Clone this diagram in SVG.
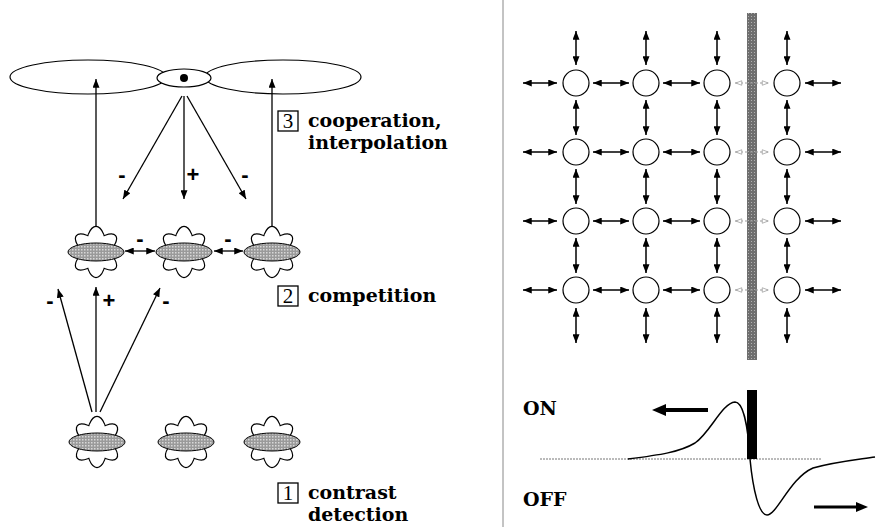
<svg xmlns="http://www.w3.org/2000/svg" width="881" height="527" viewBox="0 0 881 527">
<style>
.ln{stroke:#000;stroke-width:1.3;fill:none}
.ol{stroke:#000;stroke-width:1.2;fill:#fff}
.pet{stroke:#000;stroke-width:2.4;fill:none}
.petf{fill:#fff;stroke:none}
.core{fill:url(#dots);stroke:#000;stroke-width:1}
.gar line{stroke:#000;stroke-width:1.5;marker-start:url(#ga);marker-end:url(#ga)}
.gdash line{stroke:#999;stroke-width:1.2;stroke-dasharray:3 2;marker-start:url(#gh);marker-end:url(#gh)}
.node{fill:#fff;stroke:#000;stroke-width:1.2}
.sign{font-family:"Liberation Sans",Arial,sans-serif;font-weight:bold;font-size:22px;text-anchor:middle}
.lbl{font-family:"DejaVu Serif","Liberation Serif",serif;font-weight:bold;font-size:19px}
.num{font-family:"Liberation Serif",serif;font-size:21px;text-anchor:middle}
.box{fill:none;stroke:#000;stroke-width:1.3}
</style>
<defs>
<pattern id="dots" width="3" height="3" patternUnits="userSpaceOnUse">
<rect width="3" height="3" fill="#9a9a9a"/>
<rect x="0" y="0" width="1.5" height="1.5" fill="#d8d8d8"/>
</pattern>
<pattern id="bar" width="3" height="3" patternUnits="userSpaceOnUse">
<rect width="3" height="3" fill="#6e6e6e"/>
<rect x="1" y="1" width="1" height="1" fill="#b0b0b0"/>
</pattern>
<marker id="ah" viewBox="0 0 10 8" refX="10" refY="4" markerWidth="9" markerHeight="7" markerUnits="userSpaceOnUse" orient="auto-start-reverse">
<path d="M0,0 L10,4 L0,8 Z" fill="#000"/>
</marker>
<marker id="ga" viewBox="0 0 10 8" refX="10" refY="4" markerWidth="9" markerHeight="7" markerUnits="userSpaceOnUse" orient="auto-start-reverse">
<path d="M0,0 L10,4 L0,8 Z" fill="#000"/>
</marker>
<marker id="gh" viewBox="0 0 10 8" refX="10" refY="4" markerWidth="8" markerHeight="6" markerUnits="userSpaceOnUse" orient="auto-start-reverse">
<path d="M1,1 L9,4 L1,7 Z" fill="#fff" stroke="#999" stroke-width="1"/>
</marker>
<g id="flower">
<ellipse class="pet" rx="25" ry="9" transform="rotate(40)"/>
<ellipse class="pet" rx="25" ry="9" transform="rotate(-40)"/>
<ellipse class="pet" rx="10" ry="25"/>
<ellipse class="petf" rx="25" ry="9" transform="rotate(40)"/>
<ellipse class="petf" rx="25" ry="9" transform="rotate(-40)"/>
<ellipse class="petf" rx="10" ry="25"/>
<ellipse class="core" rx="28" ry="9"/>
</g>
</defs>
<rect width="881" height="527" fill="#fff"/>

<line x1="503" y1="0" x2="503" y2="527" stroke="#888" stroke-width="1"/>

<g id="field">
<ellipse class="ol" cx="88" cy="77" rx="78" ry="17"/>
<ellipse class="ol" cx="283" cy="77" rx="78" ry="17"/>
<ellipse class="ol" cx="184" cy="78" rx="27" ry="9"/>
<circle cx="184" cy="78" r="4" fill="#000"/>
</g>

<g id="mid-flowers">
<use href="#flower" x="96" y="252"/>
<use href="#flower" x="184" y="252"/>
<use href="#flower" x="272" y="252"/>
</g>
<g id="bottom-flowers">
<use href="#flower" x="97" y="442"/>
<use href="#flower" x="186" y="442"/>
<use href="#flower" x="272" y="442"/>
</g>

<g id="connectors">
<line class="ln" x1="96" y1="227" x2="96" y2="79" marker-end="url(#ah)"/>
<line class="ln" x1="272" y1="227" x2="272" y2="79" marker-end="url(#ah)"/>
<line class="ln" x1="182" y1="96" x2="123" y2="199" marker-end="url(#ah)"/>
<line class="ln" x1="184" y1="96" x2="184" y2="199" marker-end="url(#ah)"/>
<line class="ln" x1="187" y1="96" x2="246" y2="199" marker-end="url(#ah)"/>
<line class="ln" x1="125" y1="251" x2="155" y2="251" marker-start="url(#ah)" marker-end="url(#ah)"/>
<line class="ln" x1="214" y1="251" x2="243" y2="251" marker-start="url(#ah)" marker-end="url(#ah)"/>
<line class="ln" x1="92" y1="412" x2="58" y2="289" marker-end="url(#ah)"/>
<line class="ln" x1="96" y1="412" x2="96" y2="287" marker-end="url(#ah)"/>
<line class="ln" x1="100" y1="412" x2="160" y2="288" marker-end="url(#ah)"/>
</g>

<g id="signs">
<text class="sign" x="122" y="182">-</text>
<text class="sign" x="193" y="182">+</text>
<text class="sign" x="245" y="182">-</text>
<text class="sign" x="140" y="246">-</text>
<text class="sign" x="228" y="246">-</text>
<text class="sign" x="50" y="308">-</text>
<text class="sign" x="109" y="308">+</text>
<text class="sign" x="166" y="308">-</text>
</g>

<g id="stage3">
<rect class="box" x="278" y="111" width="20" height="20"/>
<text class="num" x="288" y="128">3</text>
<text class="lbl" x="308" y="127">cooperation,</text>
<text class="lbl" x="308" y="149">interpolation</text>
</g>
<g id="stage2">
<rect class="box" x="278" y="286" width="20" height="20"/>
<text class="num" x="288" y="303">2</text>
<text class="lbl" x="308" y="302">competition</text>
</g>
<g id="stage1">
<rect class="box" x="278" y="483" width="20" height="20"/>
<text class="num" x="288" y="500">1</text>
<text class="lbl" x="308" y="499">contrast</text>
<text class="lbl" x="308" y="521">detection</text>
</g>

<rect id="edge-bar" x="747" y="13" width="10" height="347" fill="url(#bar)"/>

<g id="grid-connectors">
<g class="gar">
<line x1="576" y1="31" x2="576" y2="65"/><line x1="646" y1="31" x2="646" y2="65"/><line x1="717" y1="31" x2="717" y2="65"/><line x1="787" y1="31" x2="787" y2="65"/>
<line x1="576" y1="100" x2="576" y2="135"/><line x1="646" y1="100" x2="646" y2="135"/><line x1="717" y1="100" x2="717" y2="135"/><line x1="787" y1="100" x2="787" y2="135"/>
<line x1="576" y1="169" x2="576" y2="204"/><line x1="646" y1="169" x2="646" y2="204"/><line x1="717" y1="169" x2="717" y2="204"/><line x1="787" y1="169" x2="787" y2="204"/>
<line x1="576" y1="238" x2="576" y2="273"/><line x1="646" y1="238" x2="646" y2="273"/><line x1="717" y1="238" x2="717" y2="273"/><line x1="787" y1="238" x2="787" y2="273"/>
<line x1="576" y1="308" x2="576" y2="343"/><line x1="646" y1="308" x2="646" y2="343"/><line x1="717" y1="308" x2="717" y2="343"/><line x1="787" y1="308" x2="787" y2="343"/>
<line x1="523" y1="83" x2="557" y2="83"/><line x1="593" y1="83" x2="629" y2="83"/><line x1="663" y1="83" x2="700" y2="83"/><line x1="805" y1="83" x2="841" y2="83"/>
<line x1="523" y1="152" x2="557" y2="152"/><line x1="593" y1="152" x2="629" y2="152"/><line x1="663" y1="152" x2="700" y2="152"/><line x1="805" y1="152" x2="841" y2="152"/>
<line x1="523" y1="221" x2="557" y2="221"/><line x1="593" y1="221" x2="629" y2="221"/><line x1="663" y1="221" x2="700" y2="221"/><line x1="805" y1="221" x2="841" y2="221"/>
<line x1="523" y1="290" x2="557" y2="290"/><line x1="593" y1="290" x2="629" y2="290"/><line x1="663" y1="290" x2="700" y2="290"/><line x1="805" y1="290" x2="841" y2="290"/>
</g>
<g class="gdash">
<line x1="735" y1="83" x2="769" y2="83"/><line x1="735" y1="152" x2="769" y2="152"/><line x1="735" y1="221" x2="769" y2="221"/><line x1="735" y1="290" x2="769" y2="290"/>
</g>
</g>

<g id="grid-nodes">
<circle class="node" cx="576" cy="83" r="13"/><circle class="node" cx="646" cy="83" r="13"/><circle class="node" cx="717" cy="83" r="13"/><circle class="node" cx="787" cy="83" r="13"/>
<circle class="node" cx="576" cy="152" r="13"/><circle class="node" cx="646" cy="152" r="13"/><circle class="node" cx="717" cy="152" r="13"/><circle class="node" cx="787" cy="152" r="13"/>
<circle class="node" cx="576" cy="221" r="13"/><circle class="node" cx="646" cy="221" r="13"/><circle class="node" cx="717" cy="221" r="13"/><circle class="node" cx="787" cy="221" r="13"/>
<circle class="node" cx="576" cy="290" r="13"/><circle class="node" cx="646" cy="290" r="13"/><circle class="node" cx="717" cy="290" r="13"/><circle class="node" cx="787" cy="290" r="13"/>
</g>

<g id="profile">
<line x1="540" y1="459" x2="822" y2="459" stroke="#777" stroke-width="1" stroke-dasharray="2 1"/>
<rect x="747" y="390" width="10" height="69" fill="#000"/>
<path d="M628,459 C660,455 680,452 695,443 C710,433 722,403 735,402 C743,402 748,425 750,459 C753,490 759,515 767,515 C777,515 790,478 813,468 C835,462 855,460 875,457" fill="none" stroke="#000" stroke-width="1.5"/>
<line x1="708" y1="410" x2="664" y2="410" stroke="#000" stroke-width="4"/>
<path d="M652,410 L666,404 L666,416 Z" fill="#000"/>
<line x1="814" y1="507" x2="857" y2="507" stroke="#000" stroke-width="3"/>
<path d="M868,507 L856,502 L856,512 Z" fill="#000"/>
<text class="lbl" x="523" y="415" font-size="20">ON</text>
<text class="lbl" x="523" y="506" font-size="20">OFF</text>
</g>
</svg>
